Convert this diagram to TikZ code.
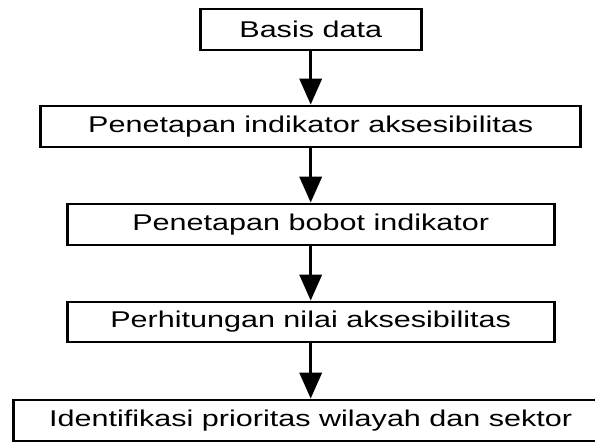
\documentclass[tikz,border=0pt]{standalone}
\usepackage{fontspec}
\setmainfont{Liberation Sans}
\usetikzlibrary{arrows.meta}
\newcommand{\stretchtext}[1]{\scalebox{1.34}[1]{#1}}
\tikzset{
  flowbox/.style={draw=black, line width=2.7pt, inner sep=0pt, minimum height=41pt,
    font=\fontsize{22.8}{26}\selectfont, text=black},
  flowarrow/.style={line width=3.5pt, -{Triangle[width=22pt,length=26pt]}}
}
\begin{document}
\begin{tikzpicture}[x=1pt,y=1pt]
\useasboundingbox (0,0) rectangle (595,443);
\clip (0,0) rectangle (595,443);
\node[flowbox, minimum width=221pt] (b1) at (310.7,413.5) {\stretchtext{Basis data}};
\node[flowbox, minimum width=540pt] (b2) at (310.7,316.5) {\stretchtext{Penetapan indikator aksesibilitas}};
\node[flowbox, minimum width=487pt] (b3) at (310.7,218.5) {\stretchtext{Penetapan bobot indikator}};
\node[flowbox, minimum width=487pt, minimum height=40pt] (b4) at (310.7,121) {\stretchtext{Perhitungan nilai aksesibilitas}};
\node[flowbox, minimum width=594pt] (b5) at (310.7,22.5) {\stretchtext{Identifikasi prioritas wilayah dan sektor}};
\draw[flowarrow] (b1.south) -- (b2.north);
\draw[flowarrow] (b2.south) -- (b3.north);
\draw[flowarrow] (b3.south) -- (b4.north);
\draw[flowarrow] (b4.south) -- (b5.north);
\end{tikzpicture}
\end{document}
